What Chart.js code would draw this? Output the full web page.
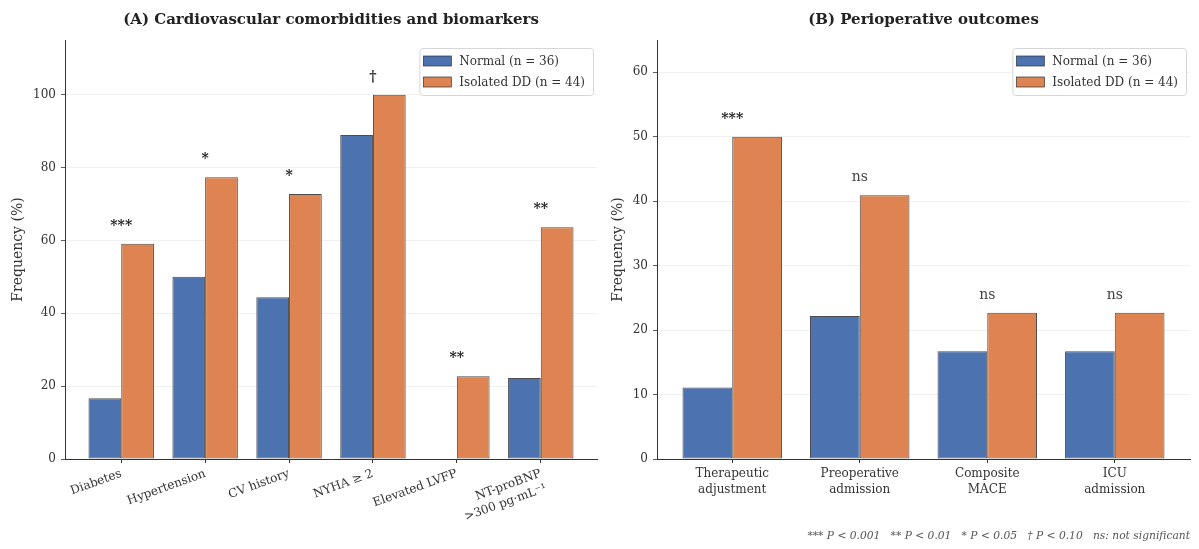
<!DOCTYPE html>
<html>
<head>
<meta charset="utf-8">
<script src="https://cdn.jsdelivr.net/npm/chart.js@4.4.1/dist/chart.umd.min.js"></script>
<style>
  html, body { margin: 0; padding: 0; background: #ffffff; }
  #wrap { position: relative; width: 1199px; height: 549px; overflow: hidden; }
  canvas { position: absolute; top: 0; }
  #panelA { left: 0; }
  #panelB { left: 600px; }
</style>
</head>
<body>
<div id="wrap">
  <canvas id="panelA" width="600" height="549"></canvas>
  <canvas id="panelB" width="599" height="549"></canvas>
</div>
<script>
// ---- data ----
const seriesNames = ['Normal (n = 36)', 'Isolated DD (n = 44)'];

const categoriesA = ['Diabetes', 'Hypertension', 'CV history', 'NYHA \u2265 2', 'Elevated LVFP', ['NT-proBNP', '>300 pg\u00b7mL\u207b\u00b9']];
const normalA     = [16.7, 50.0, 44.4, 88.9, 0, 22.2];
const isolatedA   = [59.1, 77.3, 72.7, 100.0, 22.7, 63.6];
const significanceA = ['***', '*', '*', '\u2020', '**', '**'];
const yTicksA     = [0, 20, 40, 60, 80, 100];

const categoriesB = [['Therapeutic', 'adjustment'], ['Preoperative', 'admission'], ['Composite', 'MACE'], ['ICU', 'admission']];
const normalB     = [11.1, 22.2, 16.7, 16.7];
const isolatedB   = [50.0, 40.9, 22.7, 22.7];
const significanceB = ['***', 'ns', 'ns', 'ns'];
const yTicksB     = [0, 10, 20, 30, 40, 50, 60];

const footnoteText = '*** P < 0.001   ** P < 0.01   * P < 0.05   \u2020 P < 0.10   ns: not significant';

// ---- styling ----
const FONT = '"DejaVu Serif", "Liberation Serif", serif';
const BLUE = '#4C72B0';
const ORANGE = '#DD8452';
const EDGE = 'rgba(45,45,45,0.85)';
const AXIS = '#333333';

function decorations(opts) {
  return {
    id: 'panelDecor',
    afterDraw(chart) {
      const ctx = chart.ctx;
      const area = chart.chartArea;
      const xs = chart.scales.x;
      const ys = chart.scales.y;
      ctx.save();

      // panel title
      ctx.font = 'bold 15px ' + FONT;
      ctx.fillStyle = '#222';
      ctx.textAlign = 'center';
      ctx.textBaseline = 'middle';
      ctx.fillText(opts.title, (area.left + area.right) / 2, 20.5);

      // significance markers above each group
      opts.significance.forEach((s, i) => {
        const top = Math.max(...chart.data.datasets.map(d => d.data[i]));
        const x = xs.getPixelForValue(i);
        const y = ys.getPixelForValue(top) - 14;
        const isNs = s === 'ns';
        ctx.font = (isNs ? '' : 'bold ') + '14px ' + FONT;
        ctx.fillStyle = isNs ? '#444' : '#222';
        ctx.textAlign = 'center';
        ctx.textBaseline = 'alphabetic';
        ctx.fillText(s, x, y);
      });

      // framed legend, upper right
      ctx.font = '12px ' + FONT;
      const tw = Math.max(...chart.data.datasets.map(d => ctx.measureText(d.label).width));
      const boxW = 40 + tw + 8;
      const boxH = 47;
      const lx = area.right - 4 - boxW;
      const ly = area.top + 8;
      ctx.beginPath();
      ctx.roundRect(lx + 0.5, ly + 0.5, boxW, boxH, 3);
      ctx.fillStyle = 'rgba(255,255,255,0.85)';
      ctx.fill();
      ctx.strokeStyle = '#d6d6d6';
      ctx.lineWidth = 1;
      ctx.stroke();
      chart.data.datasets.forEach((d, i) => {
        const cy = ly + 13 + i * 21;
        ctx.fillStyle = d.backgroundColor;
        ctx.fillRect(lx + 4, cy - 5, 28, 10);
        ctx.strokeStyle = EDGE;
        ctx.lineWidth = 0.8;
        ctx.strokeRect(lx + 4, cy - 5, 28, 10);
        ctx.fillStyle = '#333';
        ctx.textAlign = 'left';
        ctx.textBaseline = 'middle';
        ctx.fillText(d.label, lx + 40, cy + 0.5);
      });

      // significance key
      if (opts.footnote) {
        ctx.font = 'italic 10.7px ' + FONT;
        ctx.fillStyle = '#555';
        ctx.textAlign = 'right';
        ctx.textBaseline = 'middle';
        ctx.fillText(opts.footnote, area.right, 536);
      }
      ctx.restore();
    }
  };
}

function buildPanel(canvasId, p) {
  return new Chart(document.getElementById(canvasId), {
    type: 'bar',
    data: {
      labels: p.categories.map((_, i) => i),
      datasets: [
        { label: seriesNames[0], data: p.normal, backgroundColor: BLUE, borderColor: EDGE, borderWidth: 1, borderSkipped: false },
        { label: seriesNames[1], data: p.isolated, backgroundColor: ORANGE, borderColor: EDGE, borderWidth: 1, borderSkipped: false }
      ]
    },
    options: {
      responsive: false,
      animation: false,
      devicePixelRatio: 1,
      layout: { padding: { top: 40, right: p.padRight, left: 0, bottom: 0 } },
      datasets: { bar: { categoryPercentage: 0.78, barPercentage: 1.0 } },
      plugins: { legend: { display: false }, title: { display: false }, tooltip: { enabled: false } },
      scales: {
        x: {
          type: 'linear',
          min: p.xMin,
          max: p.xMax,
          offset: false,
          afterBuildTicks: s => { s.ticks = p.categories.map((_, i) => ({ value: i })); },
          afterFit: s => { s.height = 90; },
          ticks: {
            callback: v => p.categories[v],
            autoSkip: false,
            minRotation: p.rotation,
            maxRotation: p.rotation,
            font: { family: FONT, size: 12, lineHeight: 1.3 },
            color: '#333',
            padding: 3
          },
          grid: { display: true, drawOnChartArea: false, drawTicks: true, tickLength: 4, tickColor: AXIS, offset: false },
          border: { display: true, color: AXIS, width: 1 }
        },
        y: {
          min: 0,
          max: p.yMax,
          afterBuildTicks: s => { s.ticks = p.yTicks.map(v => ({ value: v })); },
          afterFit: s => { s.width = p.yWidth; },
          ticks: { font: { family: FONT, size: 12 }, color: '#333', padding: 5 },
          grid: { color: '#ececec', lineWidth: 0.8, tickColor: AXIS, tickLength: 4, drawTicks: true },
          border: { display: true, color: AXIS, width: 1 },
          title: { display: true, text: 'Frequency (%)', font: { family: FONT, size: 14 }, color: '#333', padding: { top: 10, bottom: 0 } }
        }
      }
    },
    plugins: [decorations({ title: p.title, significance: p.significance, footnote: p.footnote })]
  });
}

buildPanel('panelA', {
  title: '(A) Cardiovascular comorbidities and biomarkers',
  categories: categoriesA, normal: normalA, isolated: isolatedA,
  significance: significanceA, yTicks: yTicksA, yMax: 115,
  xMin: -0.67, xMax: 5.67, rotation: 20, yWidth: 65, padRight: 3
});

buildPanel('panelB', {
  title: '(B) Perioperative outcomes',
  categories: categoriesB, normal: normalB, isolated: isolatedB,
  significance: significanceB, yTicks: yTicksB, yMax: 65,
  xMin: -0.59, xMax: 3.59, rotation: 0, yWidth: 57, padRight: 9,
  footnote: footnoteText
});
</script>
</body>
</html>
